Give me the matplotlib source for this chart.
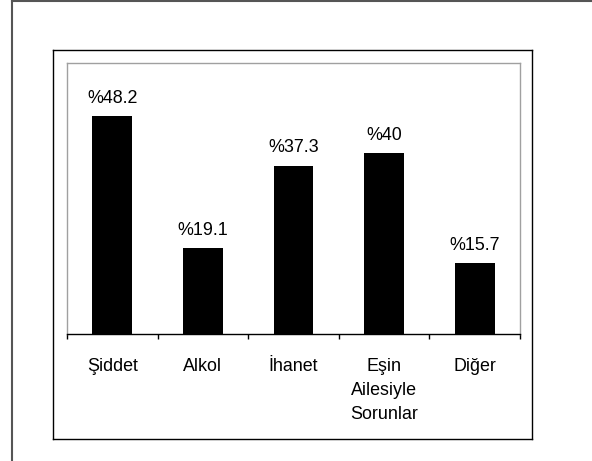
import matplotlib
matplotlib.use("Agg")
from matplotlib import pyplot as plt
from matplotlib.lines import Line2D
import numpy as np

plt.rcParams['font.family'] = ['Liberation Sans', 'DejaVu Sans']

# data
categories = ["Şiddet", "Alkol", "İhanet", "Eşin\nAilesiyle\nSorunlar", "Diğer"]
values = [48.2, 19.1, 37.3, 40, 15.7]
value_labels = ["%48.2", "%19.1", "%37.3", "%40", "%15.7"]

W, H = 592, 461
fig = plt.figure(figsize=(W / 100, H / 100), dpi=100)


def px_line(x0, y0, x1, y1, color, lw):  # pixel coords, y from top
    fig.add_artist(Line2D([x0 / W, x1 / W], [1 - y0 / H, 1 - y1 / H],
                          transform=fig.transFigure, color=color, lw=lw))


# outer frame (top and left only) and chart box
px_line(12, 1.5, W, 1.5, '#555555', 1.5)
px_line(12, 1.5, 12, H, '#555555', 1.5)
for (a, b, c, d) in [(53, 50, 532, 50), (532, 50, 532, 439),
                     (532, 439, 53, 439), (53, 439, 53, 50)]:
    px_line(a, b, c, d, 'black', 1.0)

ax = fig.add_axes([67 / W, 1 - 334 / H, (520 - 67) / W, (334 - 63) / H])
x = np.arange(len(categories))
ax.bar(x, values, width=0.44, color='black')
ax.set_xlim(-0.5, len(categories) - 0.5)
ax.set_ylim(0, 60)

for xi, v, lab in zip(x, values, value_labels):
    ax.annotate(lab, (xi, v), xytext=(0, 9.4), textcoords='offset points',
                ha='center', va='baseline', fontsize=12.9)

ax.set_yticks([])
ax.set_xticks(np.arange(-0.5, len(categories)), labels=[])
ax.set_xticks(x, labels=categories, minor=True)
ax.tick_params(axis='x', which='major', direction='out', length=3.6,
               width=1, color='black')
ax.tick_params(axis='x', which='minor', length=0, pad=17.5, labelsize=12.9)
for t in ax.get_xticklabels(minor=True):
    t.set_linespacing(1.52)

for s in ['left', 'top', 'right']:
    ax.spines[s].set_color('#a0a0a0')
    ax.spines[s].set_linewidth(1.0)
ax.spines['bottom'].set_color('black')
ax.spines['bottom'].set_linewidth(1.0)

fig.savefig("out.png", dpi=100)
